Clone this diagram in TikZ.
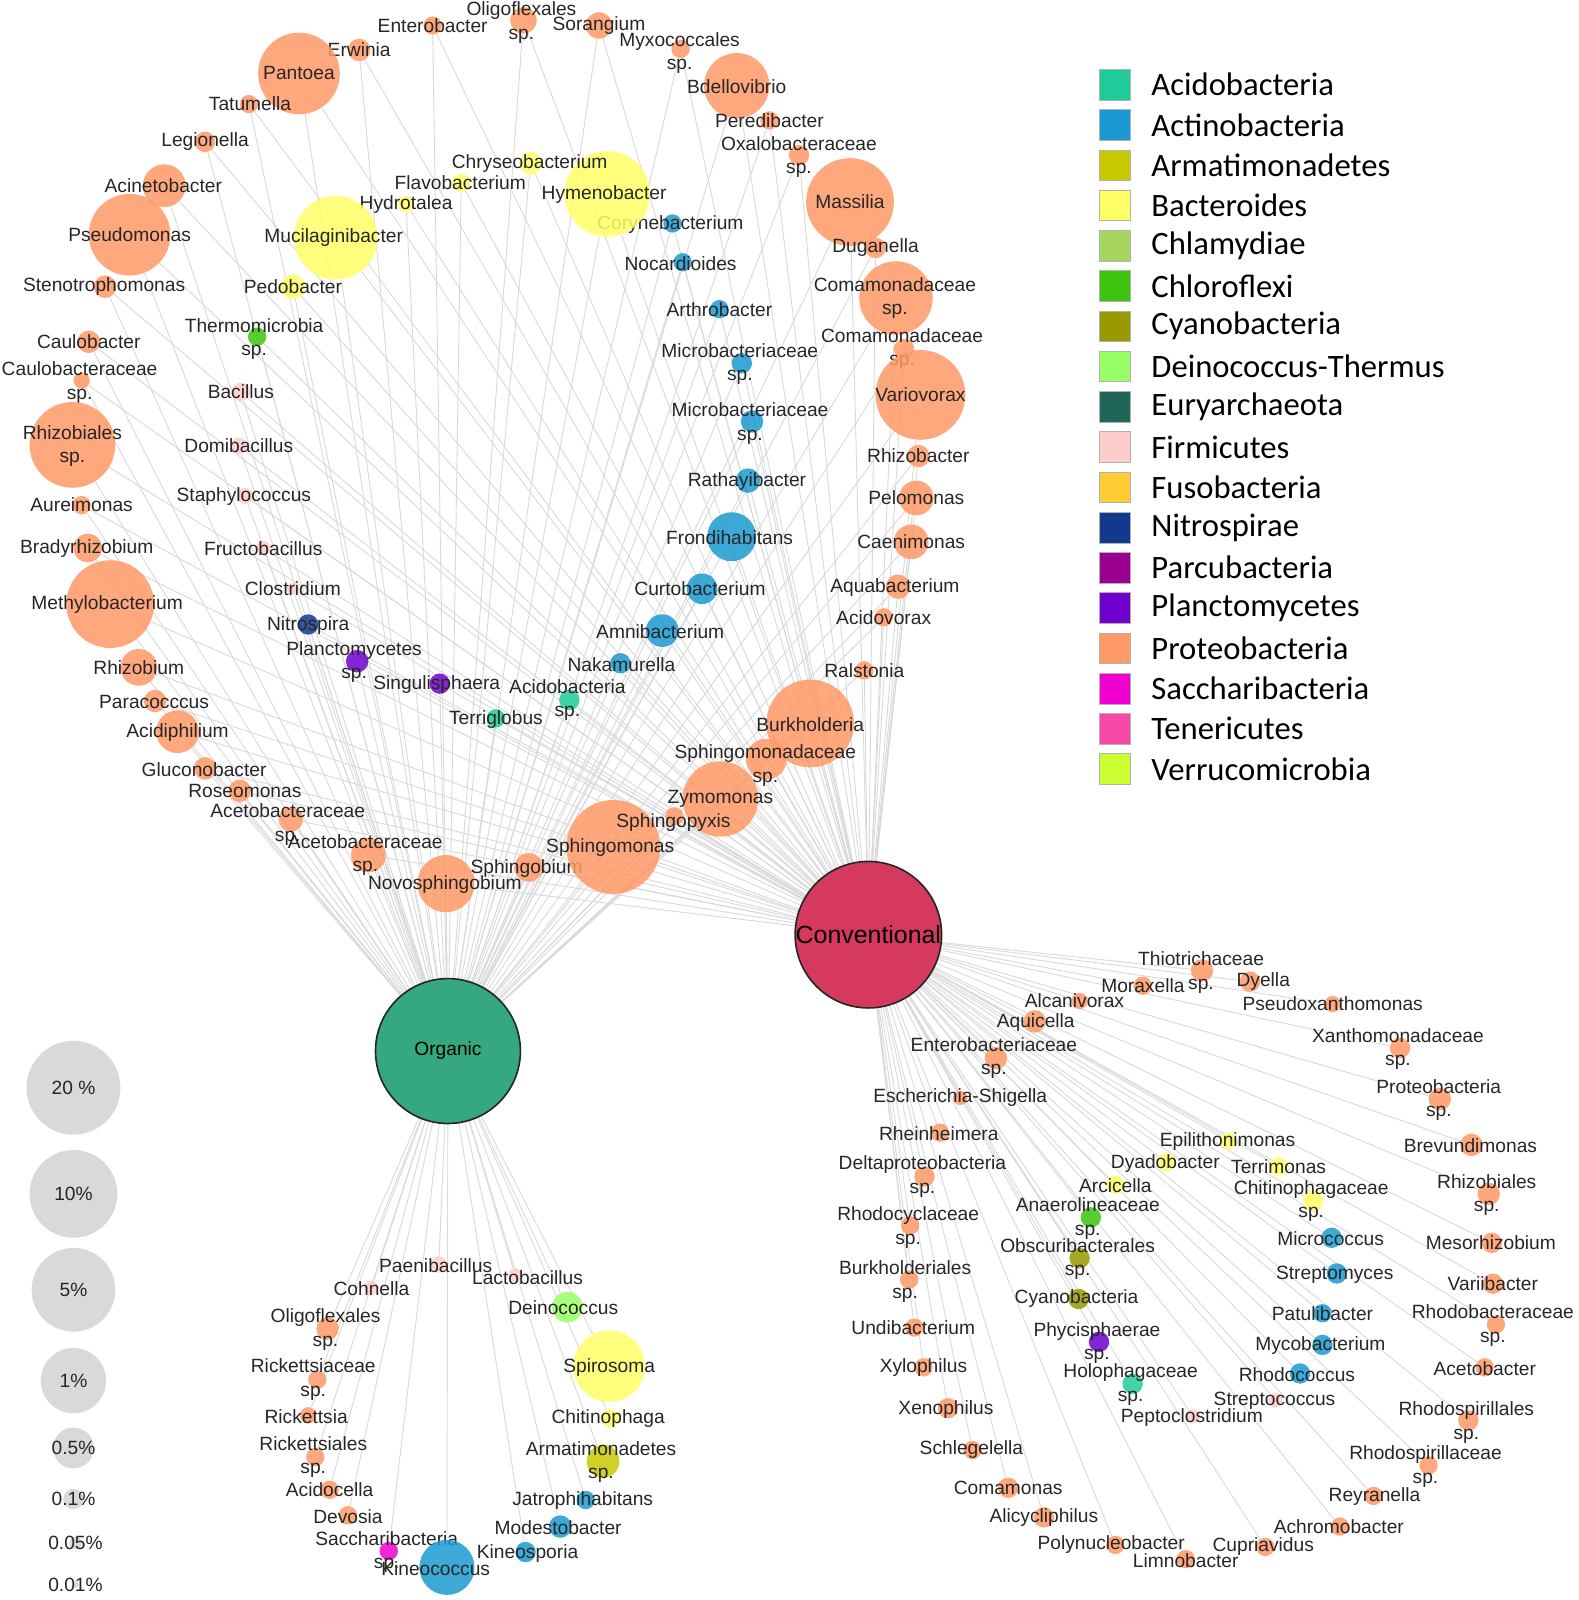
\documentclass[tikz,border=0pt]{standalone}
\usepackage{fontspec}
\setmainfont{Liberation Sans}
\newfontfamily\legendfont{Carlito}
\usetikzlibrary{backgrounds}
\definecolor{acido}{HTML}{1FCC99}
\definecolor{actino}{HTML}{1A9AD0}
\definecolor{armati}{HTML}{C8C800}
\definecolor{bact}{HTML}{FFFF66}
\definecolor{chlamy}{HTML}{A6D65E}
\definecolor{chlorofl}{HTML}{3DC40F}
\definecolor{cyano}{HTML}{999900}
\definecolor{deino}{HTML}{99FF66}
\definecolor{eury}{HTML}{1F6659}
\definecolor{firmi}{HTML}{FFCCCC}
\definecolor{fuso}{HTML}{FFCC33}
\definecolor{nitro}{HTML}{123A8C}
\definecolor{parcu}{HTML}{99008F}
\definecolor{plancto}{HTML}{7000CC}
\definecolor{prot}{HTML}{FF9966}
\definecolor{sacch}{HTML}{F000D0}
\definecolor{teneri}{HTML}{F54AA8}
\definecolor{verruco}{HTML}{CCFF33}
\definecolor{convred}{HTML}{D6395E}
\definecolor{orggreen}{HTML}{35A880}

\begin{document}
\begin{tikzpicture}[x=0.5pt,y=-0.5pt,font=\fontsize{9.4}{11.5}\selectfont]
    \tikzstyle{hub}=[circle,draw=black!85,line width=0.8pt,inner sep=0pt,minimum size=71pt]
    \tikzstyle{taxon}=[circle,inner sep=0pt,fill opacity=0.85]
    \tikzstyle{lbl}=[inner sep=0pt,align=center,text=black!85]
    \tikzstyle{link}=[draw=black!15,line width=0.45pt]
    \tikzstyle{sizekey}=[circle,fill=black!15,inner sep=0pt]
    \tikzstyle{swatch}=[rectangle,draw=black!30,line width=0.3pt,minimum width=15.5pt,minimum height=15pt,inner sep=0pt]
    \useasboundingbox (0,0) rectangle (1547,1568);
    \node (conv) at (851,916) [hub,fill=convred,font=\fontsize{12.2}{14}\selectfont] {Conventional};
    \node (org)  at (439,1030) [hub,fill=orggreen] {Organic};
    % shared genera
    \foreach \n/\x/\y/\rad/\col/\dx/\dy/\txt in {
        enterobacter/424/25/9/prot/0/0/Enterobacter,
        oligoflA/513/20/13/prot/-2/2/{Oligoflexales\\sp.},
        sorangium/587/25/13/prot/0/0/Sorangium,
        myxo/667/48/9/prot/-1/4/{Myxococcales\\sp.},
        erwinia/352/49/11/prot/0/0/Erwinia,
        pantoea/293/72/40/prot/0/0/Pantoea,
        bdello/722/84/32/prot/0/1/Bdellovibrio,
        tatumella/244/102/9/prot/1/0/Tatumella,
        peredi/754/118/9/prot/0/0/Peredibacter,
        legionella/201/139/10/prot/0/0/Legionella,
        oxalo/783/152/10/prot/0/2/{Oxalobacteraceae\\sp.},
        acineto/161/182/21/prot/-1/0/Acinetobacter,
        massilia/833/198/43/prot/0/0/Massilia,
        pseudo/127/230/40/prot/0/0/Pseudomonas,
        duganella/858/243/10/prot/0/0/Duganella,
        steno/103/281/11/prot/-1/0/Stenotrophomonas,
        comamA/878/292/36/prot/-1/0/{Comamonadaceae\\sp.},
        comamB/886/342/10/prot/-2/0/{Comamonadaceae\\sp.},
        variovorax/902/387/44/prot/0/0/Variovorax,
        caulob/87/335/11/prot/0/0/Caulobacter,
        caulobac/80/373/8/prot/-2/2/{Caulobacteraceae\\sp.},
        rhizobialesA/71/436/42/prot/0/1/{Rhizobiales\\sp.},
        rhizobacter/900/447/11/prot/0/0/Rhizobacter,
        pelomonas/898/488/17/prot/0/0/Pelomonas,
        aureimonas/80/495/9/prot/0/0/Aureimonas,
        caenimonas/893/531/17/prot/0/0/Caenimonas,
        bradyrhizo/86/537/14/prot/-1/1/Bradyrhizobium,
        methylo/108/592/43/prot/-3/0/Methylobacterium,
        aquabact/880/575/12/prot/-3/1/Aquabacterium,
        acidovorax/866/605/9/prot/0/0/Acidovorax,
        rhizobium/136/654/18/prot/0/0/Rhizobium,
        ralstonia/847/657/9/prot/0/0/Ralstonia,
        paracoccus/152/687/11/prot/-1/1/Paracocccus,
        acidiphilium/174/717/21/prot/0/1/Acidiphilium,
        burkholderia/794/709/43/prot/0/1/Burkholderia,
        glucono/201/753/11/prot/-1/1/Gluconobacter,
        sphingomonadac/751/744/20/prot/-1/6/{Sphingomonadaceae\\sp.},
        roseomonas/235/775/11/prot/5/0/Roseomonas,
        acetobacA/285/803/12/prot/-3/5/{Acetobacteraceae\\sp.},
        acetobacB/361/838/17/prot/-3/0/{Acetobacteraceae\\sp.},
        sphingobium/518/850/14/prot/-2/1/Sphingobium,
        sphingomonas/601/830/46/prot/-3/1/Sphingomonas,
        zymomonas/706/783/37/prot/0/0/Zymomonas,
        sphingopyxis/661/800/9/prot/-1/6/Sphingopyxis,
        novosph/437/866/28/prot/-1/1/Novosphingobium,
        coryne/659/219/9/actino/-2/1/Corynebacterium,
        hymeno/595/190/42/bact/-3/1/Hymenobacter,
        chryseo/520/160/11/bact/-1/0/Chryseobacterium,
        flavo/452/179/9/bact/-1/0/Flavobacterium,
        hydrotalea/398/200/8/bact/0/0/Hydrotalea,
        mucilag/329/233/41/bact/-2/0/Mucilaginibacter,
        pedobacter/287/281/12/bact/0/0/Pedobacter,
        nocardioides/669/257/9/actino/-2/1/Nocardioides,
        arthro/705/303/9/actino/0/0/Arthrobacter,
        microbacA/727/356/10/actino/-2/1/{Microbacteriaceae\\sp.},
        microbacB/737/413/11/actino/-2/2/{Microbacteriaceae\\sp.},
        rathayi/733/471/12/actino/-1/1/Rathayibacter,
        frondi/717/526/24/actino/-2/1/Frondihabitans,
        curto/688/577/15/actino/-2/0/Curtobacterium,
        amnibact/649/618/16/actino/-2/1/Amnibacterium,
        nakamurella/608/650/10/actino/1/1/Nakamurella,
        thermomicro/252/330/9/chlorofl/-3/2/{Thermomicrobia\\sp.},
        bacillus/236/384/9/firmi/0/0/Bacillus,
        domibacillus/234/437/8/firmi/0/0/Domibacillus,
        staphylo/240/486/8/firmi/-1/1/Staphylococcus,
        fructo/258/537/7/firmi/0/1/Fructobacillus,
        clostridium/287/577/6/firmi/0/0/Clostridium,
        nitrospira/302/612/10/nitro/0/1/Nitrospira,
        planctoSp/350/648/11/plancto/-3/1/{Planctomycetes\\sp.},
        singuli/431/670/10/plancto/-3/1/Singulisphaera,
        acidoSp/558/686/10/acido/-2/0/{Acidobacteria\\sp.},
        terriglobus/486/704/9/acido/0/1/Terriglobus}{
        \node (\n) at (\x,\y) [taxon,fill=\col,minimum size=\rad pt] {};
        \node (\n-t) at (\x+\dx,\y+\dy) [lbl] {\txt};
        \begin{pgfonlayer}{background}
            \draw [link] (\n) -- (org);
            \draw [link] (\n) -- (conv);
        \end{pgfonlayer}
    }
    % organic only
    \foreach \n/\x/\y/\rad/\col/\dx/\dy/\txt in {
        paenibac/430/1239/8/firmi/-3/1/Paenibacillus,
        cohnella/364/1262/7/firmi/0/1/Cohnella,
        lactobac/505/1250/7/firmi/12/2/Lactobacillus,
        deinococcus/556/1281/15/deino/-4/0/Deinococcus,
        oligoflB/321/1302/11/prot/-2/1/{Oligoflexales\\sp.},
        spirosoma/597/1339/35/bact/0/1/Spirosoma,
        rickettsiaceae/311/1352/9/prot/-4/0/{Rickettsiaceae\\sp.},
        chitinophaga/598/1390/9/bact/-2/0/Chitinophaga,
        rickettsia/302/1387/8/prot/-2/1/Rickettsia,
        armatiSp/591/1432/16/armati/-2/1/{Armatimonadetes\\sp.},
        rickettsiales/309/1428/9/prot/-2/0/{Rickettsiales\\sp.},
        acidocella/323/1460/9/prot/0/0/Acidocella,
        jatrophi/574/1470/9/actino/-3/1/Jatrophihabitans,
        devosia/341/1485/9/prot/0/1/Devosia,
        modesto/549/1496/11/actino/-2/1/Modestobacter,
        saccharSp/381/1520/9/sacch/-2/1/{Saccharibacteria\\sp.},
        kineosporia/515/1521/10/actino/2/1/Kineosporia,
        kineococcus/438/1536/27/actino/-11/1/Kineococcus}{
        \node (\n) at (\x,\y) [taxon,fill=\col,minimum size=\rad pt] {};
        \node (\n-t) at (\x+\dx,\y+\dy) [lbl] {\txt};
        \begin{pgfonlayer}{background}
            \draw [link] (\n) -- (org);
        \end{pgfonlayer}
    }
    % conventional only
    \foreach \n/\x/\y/\rad/\col/\dx/\dy/\txt in {
        thiotrich/1178/951/11/prot/-1/2/{Thiotrichaceae\\sp.},
        moraxella/1120/966/9/prot/0/0/Moraxella,
        dyella/1225/962/10/prot/13/0/Dyella,
        alcanivorax/1058/981/8/prot/-5/0/Alcanivorax,
        pseudoxantho/1306/984/8/prot/0/0/Pseudoxanthomonas,
        aquicella/1014/1001/11/prot/1/1/Aquicella,
        xanthomon/1372/1027/10/prot/-2/1/{Xanthomonadaceae\\sp.},
        enterobac/976/1037/11/prot/-2/0/{Enterobacteriaceae\\sp.},
        escherichia/941/1076/7/prot/0/0/Escherichia-Shigella,
        proteoSp/1411/1077/11/prot/-1/1/{Proteobacteria\\sp.},
        rheinheimera/921/1110/9/prot/-1/1/Rheinheimera,
        epilitho/1204/1118/8/bact/-1/1/Epilithonimonas,
        brevundi/1442/1122/11/prot/-1/1/Brevundimonas,
        dyadobacter/1143/1139/9/bact/-1/1/Dyadobacter,
        terrimonas/1253/1143/9/bact/0/0/Terrimonas,
        deltaproteo/906/1153/10/prot/-2/0/{Deltaproteobacteria\\sp.},
        arcicella/1093/1161/9/bact/0/1/Arcicella,
        chitinophagac/1287/1177/10/bact/-2/0/{Chitinophagaceae\\sp.},
        rhizobialesB/1459/1170/11/prot/-2/1/{Rhizobiales\\sp.},
        anaerolin/1069/1193/10/chlorofl/-3/1/{Anaerolineaceae\\sp.},
        rhodocyclac/892/1201/9/prot/-2/2/{Rhodocyclaceae\\sp.},
        micrococcus/1305/1213/10/actino/-1/1/Micrococcus,
        mesorhizo/1462/1218/10/prot/-1/0/Mesorhizobium,
        obscuri/1058/1233/10/cyano/-2/1/{Obscuribacterales\\sp.},
        burkholderiales/891/1254/9/prot/-4/2/{Burkholderiales\\sp.},
        streptomyces/1310/1248/10/actino/-2/1/Streptomyces,
        variibacter/1463/1258/10/prot/0/0/Variibacter,
        cyanobact/1057/1273/10/cyano/-2/0/Cyanobacteria,
        patuli/1296/1287/9/actino/0/0/Patulibacter,
        rhodobacterac/1466/1298/9/prot/-3/1/{Rhodobacteraceae\\sp.},
        undibact/896/1301/9/prot/-1/0/Undibacterium,
        phycisph/1077/1315/10/plancto/-2/1/{Phycisphaerae\\sp.},
        mycobact/1296/1318/10/actino/-2/1/Mycobacterium,
        acetobacter/1455/1340/9/prot/0/1/Acetobacter,
        xylophilus/905/1340/9/prot/0/0/Xylophilus,
        holophag/1110/1356/10/acido/-2/1/{Holophagaceae\\sp.},
        rhodococcus/1274/1346/10/actino/-3/1/Rhodococcus,
        streptococcus/1250/1372/7/firmi/-1/1/Streptococcus,
        peptoclostr/1169/1388/7/firmi/-1/1/Peptoclostridium,
        xenophilus/929/1380/10/prot/-2/1/Xenophilus,
        rhodospirillales/1439/1392/10/prot/-2/2/{Rhodospirillales\\sp.},
        schlegelella/953/1421/9/prot/-1/0/Schlegelella,
        rhodospirillac/1400/1436/9/prot/-3/1/{Rhodospirillaceae\\sp.},
        comamonas/988/1458/10/prot/0/0/Comamonas,
        reyranella/1346/1466/9/prot/1/1/Reyranella,
        alicycli/1023/1487/10/prot/0/0/Alicycliphilus,
        achromo/1313/1496/9/prot/-1/0/Achromobacter,
        polynucleo/1093/1514/9/prot/-4/0/Polynucleobacter,
        cupriavidus/1240/1516/9/prot/-2/0/Cupriavidus,
        limnobacter/1162/1528/9/prot/0/1/Limnobacter}{
        \node (\n) at (\x,\y) [taxon,fill=\col,minimum size=\rad pt] {};
        \node (\n-t) at (\x+\dx,\y+\dy) [lbl] {\txt};
        \begin{pgfonlayer}{background}
            \draw [link] (\n) -- (conv);
        \end{pgfonlayer}
    }
    % abundance key
    \foreach \n/\x/\y/\rad/\txt in {s20/72/1066/46/{20 \%},s10/72/1170/43/{10\%},s5/72/1264/41/{5\%},
        s1/72/1353/32/{1\%},s05/72/1419/20/{0.5\%},s01/72/1469/10/{0.1\%},s005/74/1512/6/{0.05\%},s001/74/1553/3/{0.01\%}}{
        \node (\n) at (\x,\y) [sizekey,minimum size=\rad pt] {};
        \node (\n-t) at (\x,\y) [lbl] {\txt};
    }
    % phylum key
    \foreach \i/\col/\txt in {0/acido/Acidobacteria,1/actino/Actinobacteria,2/armati/Armatimonadetes,3/bact/Bacteroides,
        4/chlamy/Chlamydiae,5/chlorofl/Chloroflexi,6/cyano/Cyanobacteria,7/deino/Deinococcus-Thermus,8/eury/Euryarchaeota,
        9/firmi/Firmicutes,10/fuso/Fusobacteria,11/nitro/Nitrospirae,12/parcu/Parcubacteria,13/plancto/Planctomycetes,
        14/prot/Proteobacteria,15/sacch/Saccharibacteria,16/teneri/Tenericutes,17/verruco/Verrucomicrobia}{
        \node (key\i) at (1092.5,83+39.45*\i) [swatch,fill=\col] {};
        \node (key\i-t) at (1128,83+39.45*\i) [anchor=west,inner sep=0pt,font=\legendfont\fontsize{16}{18}\selectfont] {\txt};
    }
\end{tikzpicture}
\end{document}
